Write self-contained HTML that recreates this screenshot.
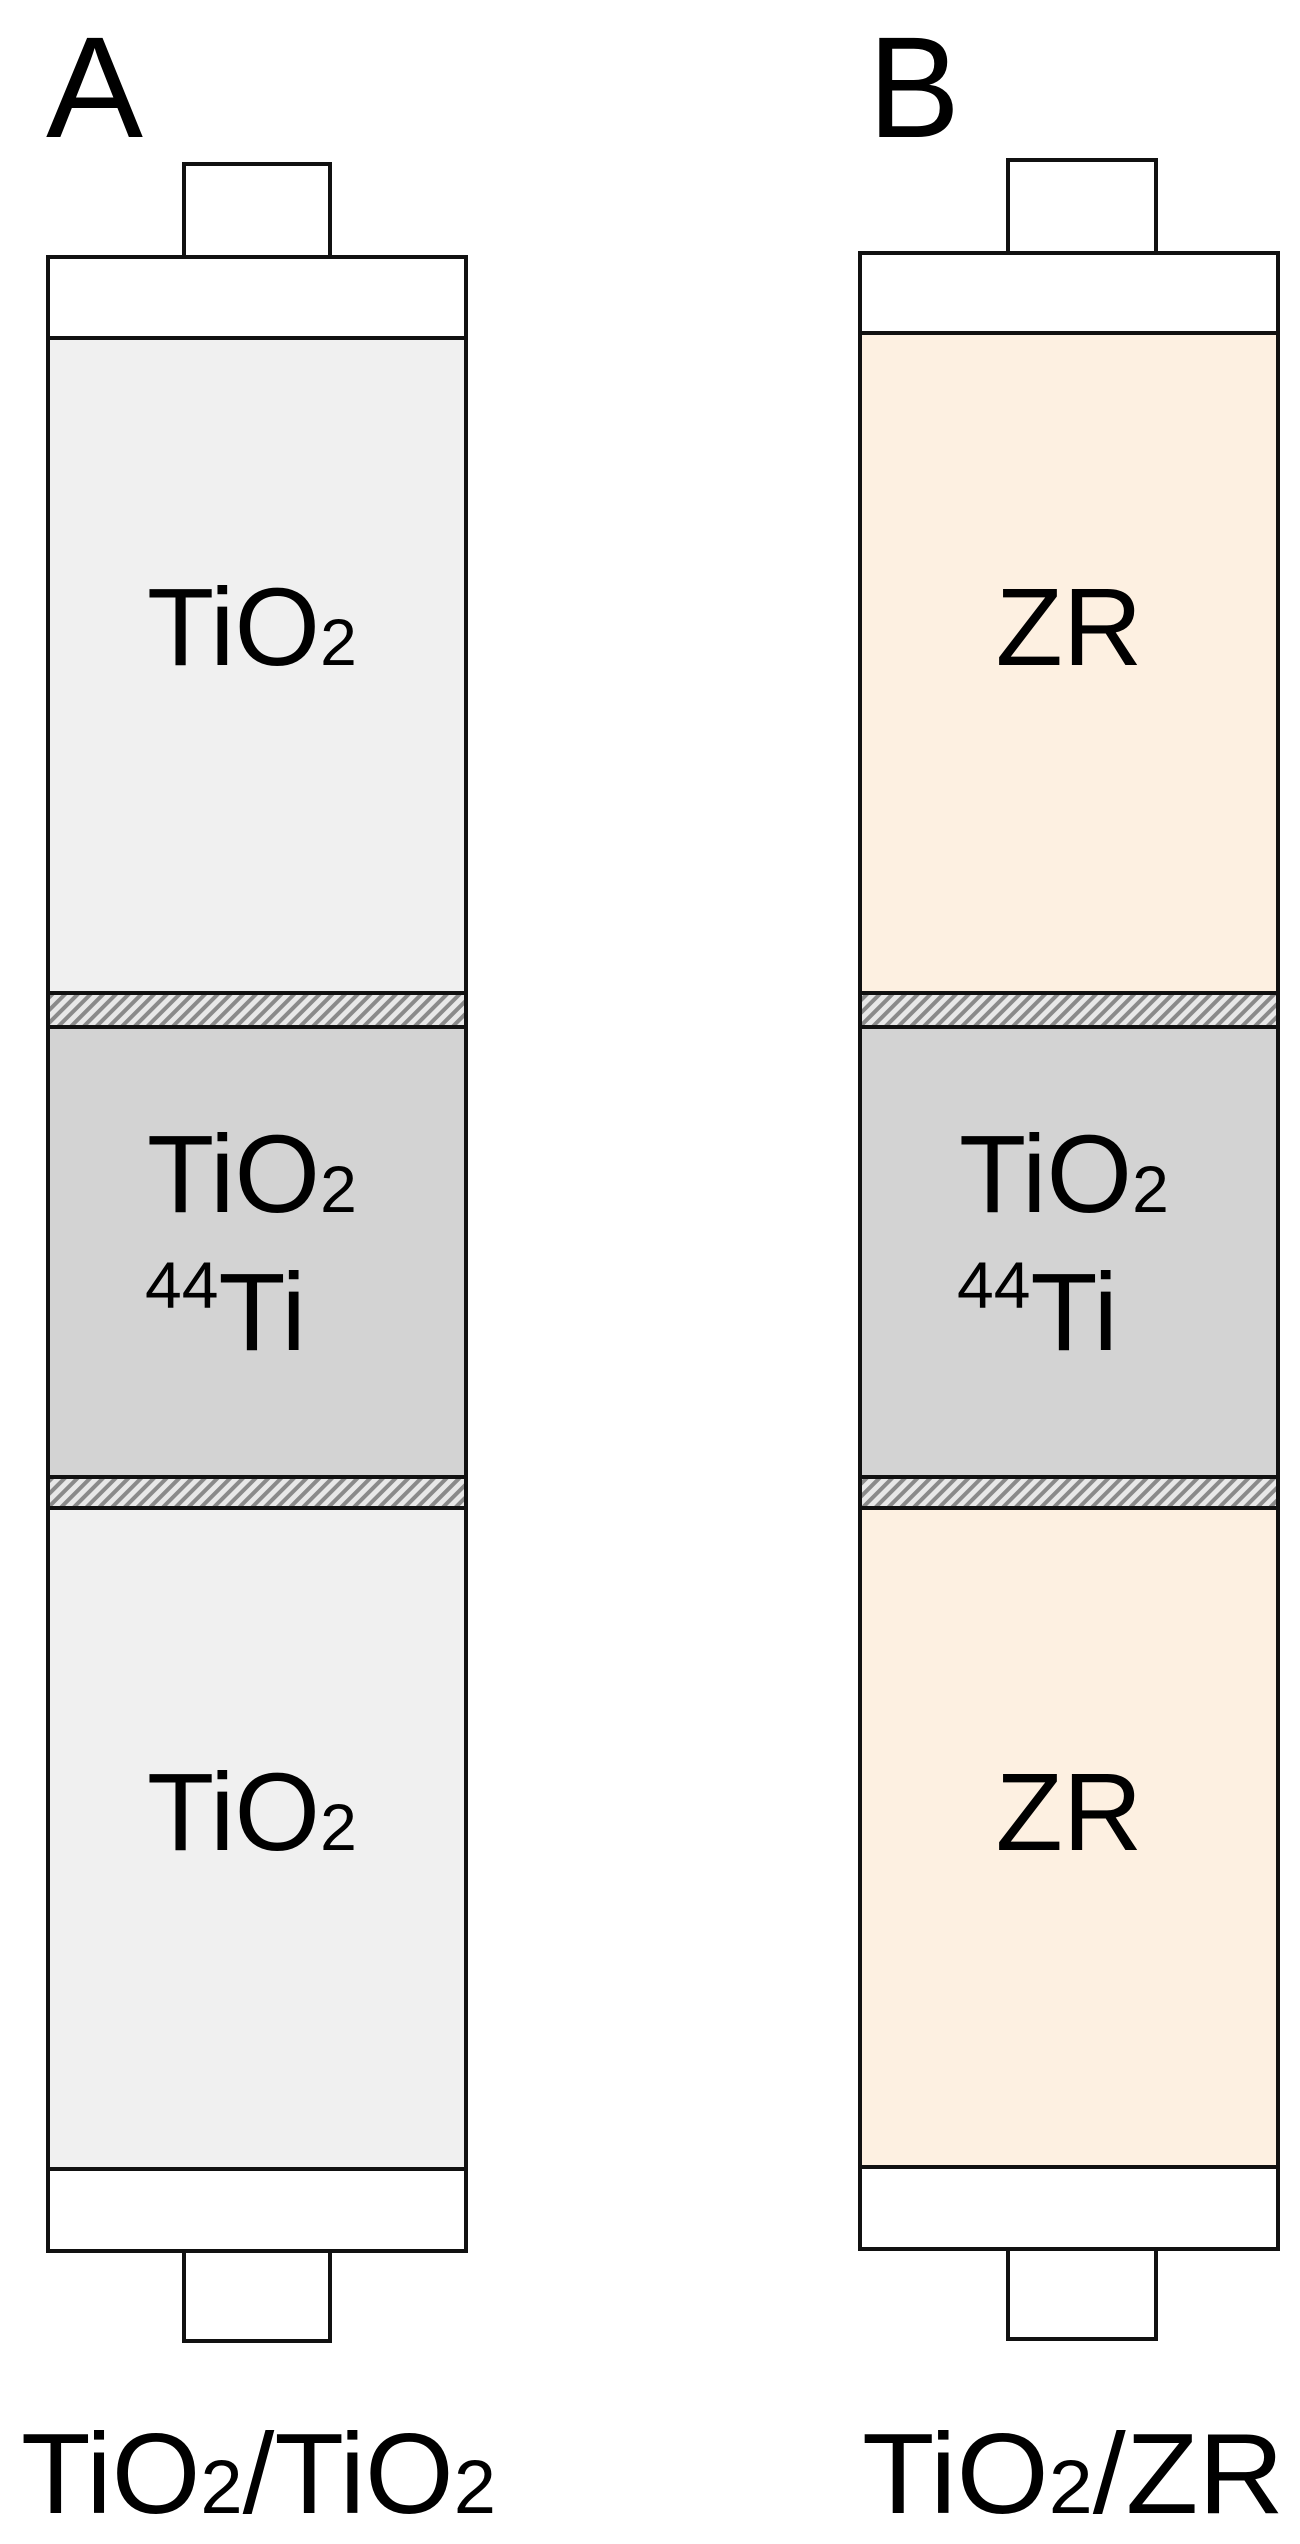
<!DOCTYPE html>
<html><head><meta charset="utf-8"><style>html,body{margin:0;padding:0;background:#fff}svg{display:block}</style></head>
<body>
<svg width="1300" height="2544" viewBox="0 0 1300 2544" xmlns="http://www.w3.org/2000/svg" font-family="Liberation Sans, sans-serif">
<defs>
<pattern id="h" width="9" height="9" patternUnits="userSpaceOnUse" patternTransform="rotate(45)">
<rect width="9" height="9" fill="#e8e8e8"/><rect width="4" height="9" fill="#8a8a8a"/>
</pattern>
</defs>
<g stroke="#111" stroke-width="4">
<!-- A -->
<rect x="184" y="164" width="146" height="93" fill="#fff"/>
<rect x="184" y="2251" width="146" height="90" fill="#fff"/>
<rect x="48" y="257" width="418" height="1994" fill="#f0f0f0"/>
<rect x="48" y="257" width="418" height="81" fill="#fff"/>
<rect x="48" y="2169" width="418" height="82" fill="#fff"/>
<rect x="48" y="993" width="418" height="34" fill="url(#h)"/>
<rect x="48" y="1027" width="418" height="450" fill="#d3d3d3"/>
<rect x="48" y="1477" width="418" height="31" fill="url(#h)"/>
<!-- B -->
<rect x="1008" y="160" width="148" height="93" fill="#fff"/>
<rect x="1008" y="2249" width="148" height="90" fill="#fff"/>
<rect x="860" y="253" width="418" height="1996" fill="#fdf0e1"/>
<rect x="860" y="253" width="418" height="80" fill="#fff"/>
<rect x="860" y="2167" width="418" height="82" fill="#fff"/>
<rect x="860" y="993" width="418" height="34" fill="url(#h)"/>
<rect x="860" y="1027" width="418" height="450" fill="#d3d3d3"/>
<rect x="860" y="1477" width="418" height="31" fill="url(#h)"/>
</g>
<g fill="#000" font-size="110">
<text x="46" y="137" font-size="144" textLength="97" lengthAdjust="spacingAndGlyphs">A</text>
<text x="868" y="137" font-size="144" textLength="92" lengthAdjust="spacingAndGlyphs">B</text>
<text x="147" y="665">TiO<tspan font-size="66">2</tspan></text>
<text x="147" y="1212">TiO<tspan font-size="66">2</tspan></text>
<text x="145" y="1350"><tspan font-size="66" dy="-42">44</tspan><tspan dy="42">Ti</tspan></text>
<text x="147" y="1850">TiO<tspan font-size="66">2</tspan></text>
<text x="1069" y="665" text-anchor="middle">ZR</text>
<text x="959" y="1212">TiO<tspan font-size="66">2</tspan></text>
<text x="957" y="1350"><tspan font-size="66" dy="-42">44</tspan><tspan dy="42">Ti</tspan></text>
<text x="1069" y="1850" text-anchor="middle">ZR</text>
<text x="21" y="2513" font-size="114" textLength="475" lengthAdjust="spacingAndGlyphs">TiO<tspan font-size="76">2</tspan>/TiO<tspan font-size="76">2</tspan></text>
<text x="862" y="2513" font-size="114" textLength="422" lengthAdjust="spacingAndGlyphs">TiO<tspan font-size="76">2</tspan>/ZR</text>
</g>
</svg>
</body></html>
